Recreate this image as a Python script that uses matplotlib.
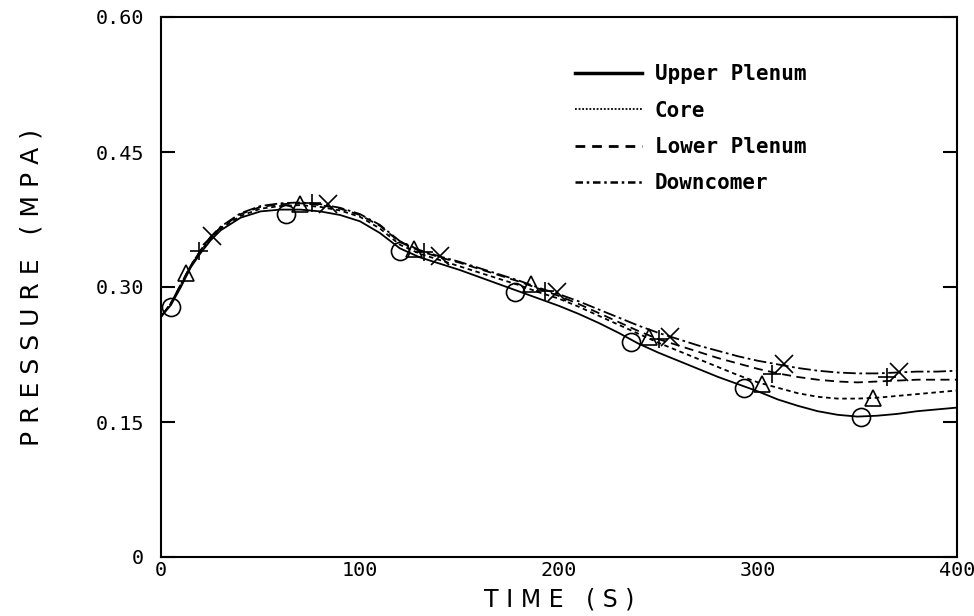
import matplotlib
matplotlib.use("Agg")
import matplotlib.pyplot as plt
from matplotlib.lines import Line2D

# ---- data ----
time = [0, 5, 10, 15, 20, 25, 30, 40, 50, 60, 70, 80, 90, 100, 110, 120, 130, 140, 150,
        160, 170, 180, 190, 200, 210, 220, 230, 240, 250, 260, 270, 280, 290, 300, 310,
        320, 330, 340, 350, 360, 370, 380, 390, 400]

upper_plenum = [0.267, 0.280, 0.300, 0.322, 0.338, 0.352, 0.363, 0.377, 0.384, 0.386, 0.386,
                0.384, 0.380, 0.373, 0.360, 0.343, 0.333, 0.326, 0.319, 0.311, 0.303, 0.295,
                0.287, 0.279, 0.270, 0.260, 0.249, 0.237, 0.227, 0.218, 0.209, 0.200, 0.192,
                0.184, 0.175, 0.168, 0.162, 0.158, 0.156, 0.157, 0.159, 0.162, 0.164, 0.166]

core = [0.267, 0.282, 0.302, 0.323, 0.340, 0.354, 0.365, 0.379, 0.387, 0.390, 0.391,
        0.389, 0.385, 0.378, 0.365, 0.347, 0.337, 0.330, 0.323, 0.316, 0.309, 0.302,
        0.294, 0.287, 0.278, 0.268, 0.258, 0.248, 0.238, 0.229, 0.220, 0.211, 0.202,
        0.194, 0.188, 0.182, 0.178, 0.176, 0.176, 0.177, 0.179, 0.181, 0.183, 0.185]

lower_plenum = [0.267, 0.282, 0.303, 0.324, 0.341, 0.355, 0.366, 0.381, 0.389, 0.392, 0.393,
                0.391, 0.387, 0.380, 0.368, 0.350, 0.340, 0.333, 0.327, 0.320, 0.313, 0.306,
                0.298, 0.290, 0.281, 0.271, 0.261, 0.251, 0.242, 0.235, 0.228, 0.221, 0.215,
                0.209, 0.204, 0.200, 0.197, 0.195, 0.194, 0.195, 0.196, 0.197, 0.197, 0.197]

downcomer = [0.267, 0.282, 0.303, 0.324, 0.341, 0.356, 0.367, 0.382, 0.390, 0.393, 0.394,
             0.392, 0.388, 0.381, 0.369, 0.351, 0.341, 0.334, 0.328, 0.321, 0.314, 0.307,
             0.299, 0.292, 0.284, 0.275, 0.266, 0.257, 0.249, 0.242, 0.235, 0.229, 0.223,
             0.218, 0.214, 0.210, 0.207, 0.205, 0.204, 0.204, 0.205, 0.206, 0.206, 0.207]

# marker positions on each curve
up_mk_t = [5, 63, 120, 178, 236, 293, 352]
up_mk_p = [0.278, 0.381, 0.340, 0.295, 0.239, 0.188, 0.156]
core_mk_t = [12.5, 70, 127, 186, 245, 302, 358]
core_mk_p = [0.316, 0.392, 0.342, 0.303, 0.244, 0.192, 0.177]
lp_mk_t = [19, 76, 132, 193, 250, 307, 365]
lp_mk_p = [0.340, 0.393, 0.339, 0.296, 0.242, 0.203, 0.200]
dc_mk_t = [25.6, 84, 140, 199, 256, 313, 371]
dc_mk_p = [0.357, 0.392, 0.334, 0.294, 0.245, 0.214, 0.206]

labels = ["Upper Plenum", "Core", "Lower Plenum", "Downcomer"]
x_ticks = [0, 100, 200, 300, 400]
y_ticks = [0, 0.15, 0.30, 0.45, 0.60]
y_tick_labels = ["0", "0.15", "0.30", "0.45", "0.60"]

# ---- figure ----
fig = plt.figure(figsize=(9.74, 6.16), dpi=100)
ax = fig.add_axes([161 / 974, 1 - 557 / 616, (957 - 161) / 974, (557 - 17) / 616])

k = "black"
lw = 1.3
ax.plot(time, upper_plenum, color=k, lw=lw, ls="-")
ax.plot(time, core, color=k, lw=lw, ls=(0, (2.5, 2)))
ax.plot(time, lower_plenum, color=k, lw=lw, ls=(0, (5, 3)))
ax.plot(time, downcomer, color=k, lw=lw, ls=(0, (7, 2, 1.5, 2)))

mk = dict(color=k, ls="none", mfc="none", mec=k, mew=1.2)
ax.plot(up_mk_t, up_mk_p, marker="o", ms=13, **mk)
ax.plot(core_mk_t, core_mk_p, marker="^", ms=11, **mk)
ax.plot(lp_mk_t, lp_mk_p, marker="+", ms=13, **mk)
ax.plot(dc_mk_t, dc_mk_p, marker="x", ms=13, **mk)

ax.set_xlim(0, 400)
ax.set_ylim(0, 0.60)

mono = "DejaVu Sans Mono"
ax.set_xticks(x_ticks)
ax.set_xticklabels([str(v) for v in x_ticks], family=mono, fontsize=14.5)
ax.set_yticks(y_ticks)
ax.set_yticklabels(y_tick_labels, family=mono, fontsize=14.5)
ax.tick_params(axis="y", direction="in", length=10, width=1.5, right=True, pad=12)
ax.tick_params(axis="x", direction="in", length=0, pad=3)
for s in ax.spines.values():
    s.set_linewidth(1.5)

ax.set_xlabel("T I M E   ( S )", fontsize=17, family="DejaVu Sans", labelpad=5)
ax.set_ylabel("P R E S S U R E   ( M P A )", fontsize=18, family="DejaVu Sans", labelpad=38)

handles = [
    Line2D([], [], color=k, lw=2.5, ls="-"),
    Line2D([], [], color=k, lw=1.3, ls=(0, (1, 1))),
    Line2D([], [], color=k, lw=2.0, ls=(0, (3.5, 2.5))),
    Line2D([], [], color=k, lw=1.8, ls=(0, (3, 1.5, 1, 1.5))),
]
leg = fig.legend(handles, labels, loc="upper left", bbox_to_anchor=(565 / 974, 1 - 54 / 616),
                 frameon=False, borderpad=0, handlelength=3.2, handletextpad=0.6,
                 labelspacing=0.78, prop=dict(family=mono, size=15, weight="bold"))

fig.savefig("out.png", dpi=100)
